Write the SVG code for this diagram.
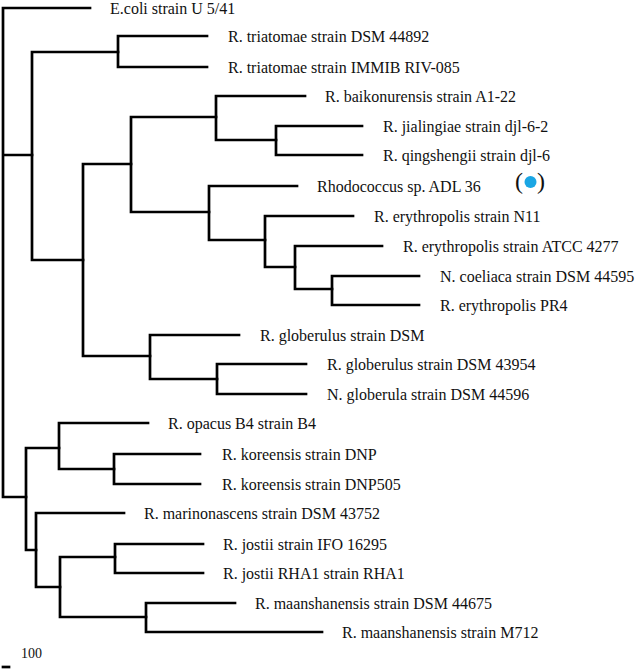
<svg xmlns="http://www.w3.org/2000/svg" width="638" height="669" viewBox="0 0 638 669">
<style>
.br{fill:none;stroke:#000;stroke-width:2.7;stroke-linecap:square;stroke-linejoin:miter}
text{font-family:"Liberation Serif","Times New Roman",serif;font-size:16px;fill:#111}
.sc{font-size:14px}
.pa{font-size:24px}
</style>
<rect width="638" height="669" fill="#fff"/>
<g id="connectors">
<path class="br" d="M90,8H3V497H26M3,155H32"/>
<path class="br" d="M118,52H32V260H83"/>
<path class="br" d="M207,36H118V67H207"/>
<path class="br" d="M131,164H83V356H150"/>
<path class="br" d="M216,117H131V212H209"/>
<path class="br" d="M305,96H216V140H276"/>
<path class="br" d="M362,126H276V155H362"/>
<path class="br" d="M297,186H209V240H265"/>
<path class="br" d="M353,216H265V267H295"/>
<path class="br" d="M382,246H295V289H332"/>
<path class="br" d="M419,276H332V305H419"/>
<path class="br" d="M239,335H150V379H217"/>
<path class="br" d="M306,364H217V394H306"/>
<path class="br" d="M59,448H26V550H36"/>
<path class="br" d="M148,423H59V469H114"/>
<path class="br" d="M200,454H114V484H200"/>
<path class="br" d="M124,513H36V587H60"/>
<path class="br" d="M115,557H60V617H146"/>
<path class="br" d="M203,544H115V573H203"/>
<path class="br" d="M235,603H146V632H322"/>
</g>
<g id="leaf-ecoli"><text x="110" y="14">E.coli strain U 5/41</text></g>
<g id="leaf-triatomae-1"><text x="228" y="42">R. triatomae strain DSM 44892</text></g>
<g id="leaf-triatomae-2"><text x="228" y="73">R. triatomae strain IMMIB RIV-085</text></g>
<g id="leaf-baikonurensis"><text x="325" y="102">R. baikonurensis strain A1-22</text></g>
<g id="leaf-jialingiae"><text x="383" y="132">R. jialingiae strain djl-6-2</text></g>
<g id="leaf-qingshengii"><text x="383" y="161">R. qingshengii strain djl-6</text></g>
<g id="leaf-adl36"><text x="317" y="192">Rhodococcus sp. ADL 36</text>
<text class="pa" x="515" y="189">(</text><circle cx="530.5" cy="182" r="6" fill="#1aa6e4"/><text class="pa" x="537" y="189">)</text></g>
<g id="leaf-n11"><text x="374" y="222">R. erythropolis strain N11</text></g>
<g id="leaf-atcc4277"><text x="403" y="252">R. erythropolis strain ATCC 4277</text></g>
<g id="leaf-coeliaca"><text x="440" y="282">N. coeliaca strain DSM 44595</text></g>
<g id="leaf-pr4"><text x="440" y="311">R. erythropolis PR4</text></g>
<g id="leaf-globerulus-dsm"><text x="260" y="341">R. globerulus strain DSM</text></g>
<g id="leaf-globerulus-43954"><text x="327" y="370">R. globerulus strain DSM 43954</text></g>
<g id="leaf-globerula"><text x="327" y="400">N. globerula strain DSM 44596</text></g>
<g id="leaf-opacus"><text x="168" y="429">R. opacus B4 strain B4</text></g>
<g id="leaf-koreensis-dnp"><text x="222" y="460">R. koreensis strain DNP</text></g>
<g id="leaf-koreensis-dnp505"><text x="222" y="490">R. koreensis strain DNP505</text></g>
<g id="leaf-marinonascens"><text x="144" y="519">R. marinonascens strain DSM 43752</text></g>
<g id="leaf-jostii-ifo"><text x="223" y="550">R. jostii strain IFO 16295</text></g>
<g id="leaf-jostii-rha1"><text x="223" y="579">R. jostii RHA1 strain RHA1</text></g>
<g id="leaf-maan-dsm"><text x="255" y="609">R. maanshanensis strain DSM 44675</text></g>
<g id="leaf-maan-m712"><text x="342" y="638">R. maanshanensis strain M712</text></g>
<g id="scale-bar"><path class="br" d="M3,667H9"/><text class="sc" x="21" y="658">100</text></g>
</svg>
